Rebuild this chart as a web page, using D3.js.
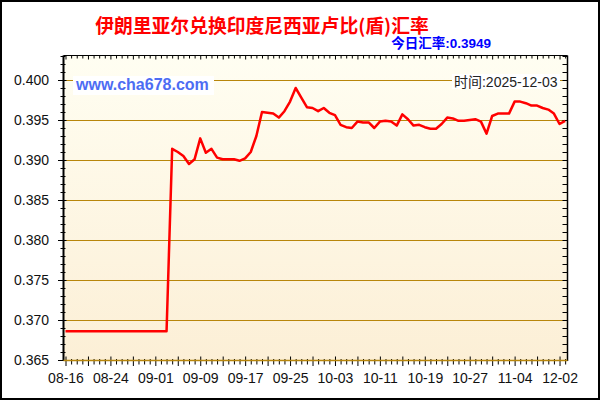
<!DOCTYPE html>
<html><head><meta charset="utf-8">
<script src="https://cdn.jsdelivr.net/npm/d3@7"></script>
<style>
html,body{margin:0;padding:0;background:#fff;}
svg{display:block;}
</style></head>
<body>
<svg id="chart" width="600" height="400"></svg>
<script>
const titleText = "伊朗里亚尔兑换印度尼西亚卢比(盾)汇率";
const todayText = "今日汇率:0.3949";
const timeText = "时间:2025-12-03";
const siteText = "www.cha678.com";
const tickLabels = ["08-16","08-24","09-01","09-09","09-17","09-25","10-03","10-11","10-19","10-27","11-04","12-02"];
const rates = [
  0.3686,0.3686,0.3686,0.3686,0.3686,0.3686,0.3686,0.3686,0.3686,0.3686,
  0.3686,0.3686,0.3686,0.3686,0.3686,0.3686,0.3686,0.3686,0.3686,0.3914,
  0.3910,0.3905,0.3895,0.3901,0.3927,0.3909,0.3914,0.3903,0.3901,0.3901,
  0.3901,0.3899,0.3902,0.3910,0.3930,0.3960,0.3959,0.3958,0.3953,0.3961,
  0.3973,0.3990,0.3978,0.3966,0.3965,0.3961,0.3965,0.3959,0.3956,0.3944,
  0.3941,0.3940,0.3948,0.3947,0.3947,0.3940,0.3948,0.3949,0.3948,0.3943,
  0.3957,0.3951,0.3943,0.3944,0.3941,0.3939,0.3939,0.3945,0.3953,0.3952,
  0.3949,0.3949,0.3950,0.3951,0.3948,0.3933,0.3955,0.3958,0.3958,0.3958,
  0.3973,0.3973,0.3971,0.3968,0.3968,0.3965,0.3963,0.3958,0.3945,0.3949
];
const yMin = 0.365, yMax = 0.403;

const svg = d3.select("#chart");
const L = 63.5, R = 567.5, T = 55.5, B = 360.5;

const defs = svg.append("defs");
const grad = defs.append("linearGradient").attr("id","bg").attr("x1",0).attr("y1",0).attr("x2",0).attr("y2",1);
grad.append("stop").attr("offset","0%").attr("stop-color","#fffef2");
grad.append("stop").attr("offset","100%").attr("stop-color","#fcefd6");

svg.append("rect").attr("x",1).attr("y",1).attr("width",598).attr("height",398)
  .attr("fill","#fff").attr("stroke","#000").attr("stroke-width",2);

svg.append("rect").attr("x",L).attr("y",T).attr("width",R-L).attr("height",B-T).attr("fill","url(#bg)");

const x = d3.scaleLinear().domain([0, rates.length-1]).range([65.5, 65.5 + (rates.length-1)*5.614]);
const y = d3.scaleLinear().domain([yMin, yMax]).range([360, 56]);

const yTicks = d3.range(365, 404).map(d => d/1000);
const yMajor = yTicks.filter((d,i) => i % 5 === 0);

// grid
svg.append("g").selectAll("line").data(yMajor).join("line")
  .attr("x1", L).attr("x2", R)
  .attr("y1", d => Math.round(y(d)) + 0.5).attr("y2", d => Math.round(y(d)) + 0.5)
  .attr("stroke","#b8860b").attr("stroke-width",1);

// left axis
const yAxis = d3.axisLeft(y).tickValues(yTicks).tickSize(0)
  .tickFormat((d,i) => i % 5 === 0 ? d3.format(".3f")(d) : "");
const gy = svg.append("g").attr("transform",`translate(${L},0)`).call(yAxis);
gy.select(".domain").remove();
gy.selectAll(".tick line")
  .attr("x1", (d,i) => i % 5 === 0 ? 3 : 2)
  .attr("x2", (d,i) => i % 5 === 0 ? -5.5 : -3)
  .attr("stroke","#000");
gy.selectAll(".tick text").attr("x",-14.5).attr("dy","0.34em")
  .attr("font-family","Liberation Sans, Arial, sans-serif").attr("font-size",14).attr("fill","#111");

// right axis ticks
const yAxisR = d3.axisRight(y).tickValues(yTicks).tickSize(0).tickFormat("");
const gyr = svg.append("g").attr("transform",`translate(${R},0)`).call(yAxisR);
gyr.select(".domain").remove();
gyr.selectAll(".tick line").attr("x1",-5).attr("x2",0).attr("stroke","#000");

// bottom axis
const xIdx = d3.range(0, rates.length);
const xAxis = d3.axisBottom(x).tickValues(xIdx).tickSize(0)
  .tickFormat(i => i % 8 === 0 ? tickLabels[i/8] : "");
const gx = svg.append("g").attr("transform",`translate(0,${B})`).call(xAxis);
gx.select(".domain").remove();
gx.selectAll(".tick line")
  .attr("y1", d => d % 4 === 0 ? -4 : -1.5)
  .attr("y2", d => d % 4 === 0 ? 5.5 : 4)
  .attr("stroke","#000");
gx.selectAll(".tick text").attr("y",13).attr("dy","0.71em")
  .attr("font-family","Liberation Sans, Arial, sans-serif").attr("font-size",14).attr("fill","#111");

// top axis ticks
const xAxisT = d3.axisTop(x).tickValues(xIdx).tickSize(0).tickFormat("");
const gxt = svg.append("g").attr("transform",`translate(0,${T})`).call(xAxisT);
gxt.select(".domain").remove();
gxt.selectAll(".tick line").attr("y1",0).attr("y2", d => d % 4 === 0 ? 4 : 3).attr("stroke","#000");

// frame lines
svg.append("line").attr("x1",L).attr("x2",L).attr("y1",T).attr("y2",B+0.5).attr("stroke","#000").attr("stroke-width",2);
svg.append("line").attr("x1",R).attr("x2",R).attr("y1",T).attr("y2",B+0.5).attr("stroke","#000").attr("stroke-width",1.5);
svg.append("line").attr("x1",L).attr("x2",R).attr("y1",T).attr("y2",T).attr("stroke","#000").attr("stroke-width",1);
svg.append("line").attr("x1",L).attr("x2",R).attr("y1",B).attr("y2",B).attr("stroke","#b8860b").attr("stroke-width",1.5);

// line
const line = d3.line().x((d,i) => x(i)).y(d => y(d));
svg.append("path").datum(rates).attr("d", line)
  .attr("fill","none").attr("stroke","#ff0000").attr("stroke-width",2.5).attr("stroke-linejoin","round");

// site label
svg.append("rect").attr("x",73).attr("y",76).attr("width",141).attr("height",19).attr("fill","#fff");
svg.append("text").attr("x",76).attr("y",90).text(siteText)
  .attr("font-family","Liberation Sans, Arial, sans-serif").attr("font-size",16).attr("font-weight","bold").attr("fill","#4d6df3");

// time label
svg.append("rect").attr("x",452).attr("y",74).attr("width",108).attr("height",15).attr("fill","#fff");
svg.append("text").attr("x",557.5).attr("y",86.5).attr("text-anchor","end").text(timeText)
  .attr("font-family","Liberation Sans, 'Noto Sans CJK SC', Arial, sans-serif").attr("font-size",14).attr("fill","#222");

// title
svg.append("text").attr("x",262).attr("y",32.5).attr("text-anchor","middle").text(titleText)
  .attr("font-family","'Noto Sans CJK SC', sans-serif").attr("font-size",18.8).attr("font-weight","bold").attr("fill","#ff0000");

svg.append("text").attr("x",491).attr("y",48).attr("text-anchor","end").text(todayText)
  .attr("font-family","Liberation Sans, 'Noto Sans CJK SC', Arial, sans-serif").attr("font-size",13.5).attr("font-weight","bold").attr("fill","#0000ff");
</script>
</body></html>
